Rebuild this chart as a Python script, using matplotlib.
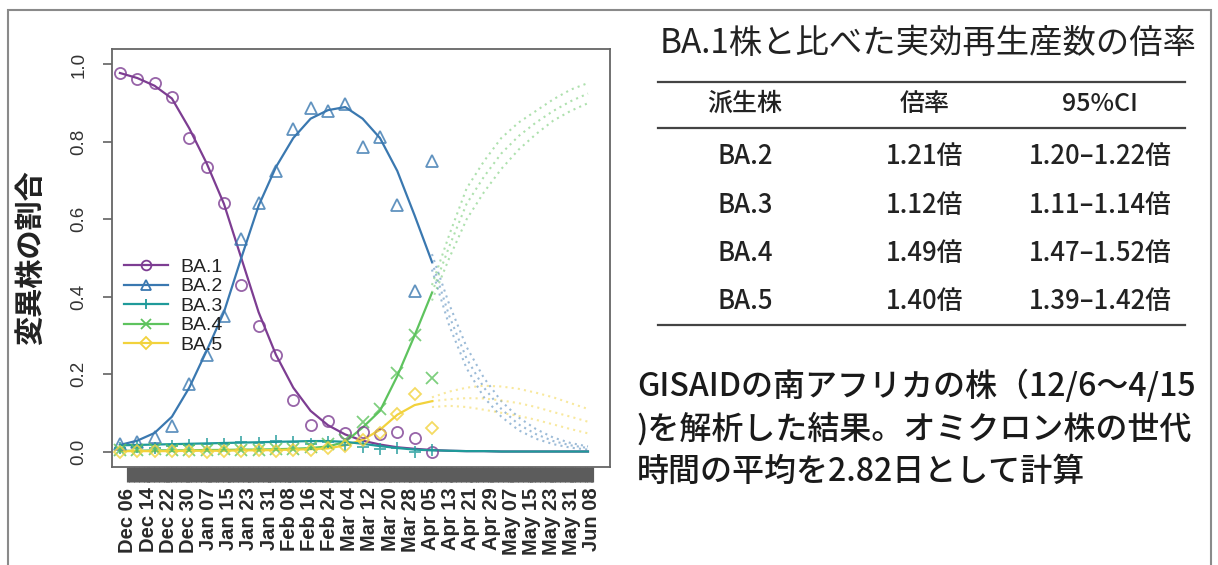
import numpy as np
import matplotlib
matplotlib.use('Agg')
import matplotlib.pyplot as plt
from matplotlib.lines import Line2D
from matplotlib.patches import Rectangle

plt.rcParams['font.family'] = ['Liberation Sans', 'Noto Sans CJK JP', 'DejaVu Sans']
JP = ['Noto Sans CJK JP', 'DejaVu Sans']

# weekly sequence counts (share), days after Dec 6
obs_days = np.arange(0, 127, 7)
ba1_obs = [0.977, 0.963, 0.952, 0.916, 0.81, 0.736, 0.643, 0.43, 0.324, 0.249,
           0.134, 0.069, 0.079, 0.048, 0.05, 0.045, 0.051, 0.034, 0.0]
ba2_obs = [0.02, 0.024, 0.037, 0.067, 0.174, 0.249, 0.35, 0.548, 0.643, 0.724,
           0.834, 0.887, 0.881, 0.898, 0.788, 0.812, 0.636, 0.414, 0.75]
ba3_obs = [0.01, 0.012, 0.01, 0.015, 0.018, 0.02, 0.02, 0.025, 0.022, 0.027,
           0.025, 0.02, 0.025, 0.018, 0.012, 0.006, 0.008, 0.0, 0.003]
ba4_obs = [0.005, 0.004, 0.006, 0.003, 0.005, 0.004, 0.006, 0.005, 0.004, 0.007,
           0.006, 0.012, 0.02, 0.03, 0.077, 0.11, 0.204, 0.30, 0.19]
ba5_obs = [0.0, 0.002, 0.001, 0.002, 0.001, 0.0, 0.002, 0.001, 0.003, 0.002,
           0.004, 0.003, 0.01, 0.015, 0.03, 0.049, 0.097, 0.148, 0.062]

# fitted shares over the whole window
fit_days = np.arange(0, 190, 7)
ba1_fit = [0.978, 0.965, 0.945, 0.912, 0.835, 0.745, 0.64, 0.5, 0.36, 0.25,
           0.165, 0.105, 0.068, 0.044, 0.028, 0.018, 0.011, 0.007, 0.004, 0.002,
           0.001, 0.001, 0.0, 0.0, 0.0, 0.0, 0.0, 0.0]
ba3_fit = [0.016, 0.017, 0.018, 0.019, 0.02, 0.021, 0.022, 0.023, 0.024, 0.025,
           0.026, 0.027, 0.027, 0.025, 0.02, 0.014, 0.009, 0.005, 0.003, 0.002,
           0.001, 0.001, 0.0, 0.0, 0.0, 0.0, 0.0, 0.0]

# fitted shares over the observed period
ba2_fit = [0.017, 0.028, 0.048, 0.09, 0.165, 0.26, 0.36, 0.5, 0.635, 0.735,
           0.81, 0.86, 0.882, 0.89, 0.86, 0.81, 0.725, 0.61, 0.49]
ba4_fit = [0.002, 0.002, 0.003, 0.003, 0.003, 0.004, 0.004, 0.005, 0.005, 0.006,
           0.007, 0.009, 0.013, 0.025, 0.062, 0.105, 0.195, 0.30, 0.41]
ba5_fit = [0.001, 0.001, 0.001, 0.001, 0.002, 0.002, 0.002, 0.003, 0.003, 0.004,
           0.005, 0.006, 0.008, 0.016, 0.03, 0.056, 0.095, 0.12, 0.13]

# projection with 95% interval
proj_days = np.arange(126, 190, 7)
ba2_proj = [0.49, 0.35, 0.24, 0.165, 0.11, 0.07, 0.045, 0.027, 0.016, 0.009]
ba2_hi = [0.51, 0.38, 0.27, 0.19, 0.13, 0.088, 0.058, 0.036, 0.022, 0.013]
ba2_lo = [0.47, 0.325, 0.215, 0.14, 0.09, 0.055, 0.033, 0.019, 0.01, 0.005]
ba4_proj = [0.41, 0.53, 0.64, 0.71, 0.77, 0.815, 0.85, 0.88, 0.905, 0.925]
ba4_hi = [0.43, 0.56, 0.68, 0.75, 0.81, 0.85, 0.88, 0.91, 0.935, 0.952]
ba4_lo = [0.39, 0.50, 0.60, 0.67, 0.73, 0.78, 0.82, 0.855, 0.88, 0.90]
ba5_proj = [0.13, 0.135, 0.138, 0.137, 0.132, 0.125, 0.115, 0.102, 0.09, 0.077]
ba5_hi = [0.14, 0.155, 0.165, 0.17, 0.168, 0.162, 0.152, 0.14, 0.125, 0.11]
ba5_lo = [0.115, 0.118, 0.115, 0.108, 0.1, 0.092, 0.082, 0.07, 0.058, 0.047]

date_labels = ['Dec 06', 'Dec 14', 'Dec 22', 'Dec 30', 'Jan 07', 'Jan 15', 'Jan 23',
               'Jan 31', 'Feb 08', 'Feb 16', 'Feb 24', 'Mar 04', 'Mar 12', 'Mar 20',
               'Mar 28', 'Apr 05', 'Apr 13', 'Apr 21', 'Apr 29', 'May 07', 'May 15',
               'May 23', 'May 31', 'Jun 08']

strains = ['BA.1', 'BA.2', 'BA.3', 'BA.4', 'BA.5']
colors = ['#7d3d92', '#3a78b0', '#1f9a9a', '#5ec35e', '#f2d23c']
markers = ['o', '^', '+', 'x', 'D']

table_head = ['派生株', '倍率', '95%CI']
table_strain = ['BA.2', 'BA.3', 'BA.4', 'BA.5']
table_ratio = ['1.21倍', '1.12倍', '1.49倍', '1.40倍']
table_ci = ['1.20–1.22倍', '1.11–1.14倍', '1.47–1.52倍', '1.39–1.42倍']

W, H = 1218, 565
fig = plt.figure(figsize=(W / 100, H / 100), dpi=100)
ax = fig.add_axes([112 / W, 1 - 467 / H, 498 / W, 418 / H])

# fitted lines
ax.plot(fit_days, ba1_fit, color=colors[0], lw=1.6)
ax.plot(obs_days, ba2_fit, color=colors[1], lw=1.6)
ax.plot(obs_days, ba4_fit, color=colors[3], lw=1.6)
ax.plot(obs_days, ba5_fit, color=colors[4], lw=1.6)
ax.plot(fit_days, ba3_fit, color=colors[2], lw=1.6)

# projections
for c, series in [(colors[1], (ba2_proj, ba2_hi, ba2_lo)),
                  (colors[3], (ba4_proj, ba4_hi, ba4_lo)),
                  (colors[4], (ba5_proj, ba5_hi, ba5_lo))]:
    for s in series:
        ax.plot(proj_days, s, color=c, lw=1.5, ls=(0, (1, 2)), alpha=0.5)

# observed shares
for obs, c, m in zip([ba1_obs, ba2_obs, ba3_obs, ba4_obs, ba5_obs], colors, markers):
    ax.plot(obs_days, obs, ls='none', marker=m, ms=8 if m != 'D' else 6.5,
            mfc='none', mec=c, mew=1.3, alpha=0.8)

ax.set_xlim(-3.2, 197.9)
ax.set_ylim(-0.04, 1.04)
ax.set_yticks([0.0, 0.2, 0.4, 0.6, 0.8, 1.0])
ax.set_yticklabels(['0.0', '0.2', '0.4', '0.6', '0.8', '1.0'], rotation=90, va='center')
ax.tick_params(axis='y', length=6.5, width=1.1, color='#555555', pad=11,
               labelsize=13.5, labelcolor='#333333')

# one tick per day, drawn thick enough to merge into a band
ax.set_xticks(np.linspace(3.2, 190.6, len(date_labels)))
ax.set_xticklabels(date_labels, rotation=90, fontsize=14.5, fontweight='bold',
                   color='#2a2a2a')
ax.set_xticks(np.arange(3.2, 190.7, 1.0), minor=True)
ax.tick_params(axis='x', which='both', length=10.8, width=2.3, color='#5c5c5c', pad=4)

for sp in ax.spines.values():
    sp.set_color('#666666')
    sp.set_linewidth(1.3)

handles = [Line2D([], [], color=c, marker=m, ms=7 if m != 'D' else 6, mfc='none',
                  mew=1.3, lw=1.6) for c, m in zip(colors, markers)]
ax.legend(handles, strains, loc='center left', bbox_to_anchor=(0.0, 0.385),
          frameon=False, fontsize=14, handlelength=2.3, handletextpad=0.6,
          labelspacing=0.1, borderaxespad=0.2, labelcolor='#222222')

fig.text(30 / W, 1 - 258 / H, '変異株の割合', rotation=90, ha='center', va='center',
         fontsize=21, fontweight='bold', family=JP, color='#222222')

# ratio table
fig.text(660 / W, 1 - 43 / H, 'BA.1株と比べた実効再生産数の倍率', ha='left', va='center',
         fontsize=24, family=JP, color='#222222')
for yy in [82, 128, 325]:
    fig.add_artist(Line2D([658 / W, 1185 / W], [1 - yy / H, 1 - yy / H],
                          color='#444444', lw=1.6))
col_x = [745, 925, 1100]
for x, t in zip(col_x, table_head):
    fig.text(x / W, 1 - 104 / H, t, ha='center', va='center', fontsize=18,
             fontweight='medium', family=JP, color='#222222')
for i, row in enumerate(zip(table_strain, table_ratio, table_ci)):
    yy = 157 + 48.3 * i
    for x, t in zip(col_x, row):
        fig.text(x / W, 1 - yy / H, t, ha='center', va='center', fontsize=18.5,
                 fontweight='medium', family=JP, color='#222222')

note = ['GISAIDの南アフリカの株（12/6～4/15',
        ')を解析した結果。オミクロン株の世代',
        '時間の平均を2.82日として計算']
for i, line in enumerate(note):
    fig.text(637 / W, 1 - (386 + 43 * i) / H, line, ha='left', va='center',
             fontsize=23, fontweight='medium', family=JP, color='#1a1a1a')

fig.add_artist(Rectangle((8 / W, -0.05), 1203 / W, 1.05 - 10 / H, fill=False,
                         edgecolor='#8a8a8a', lw=1.5))

fig.savefig('out.png', dpi=100)
